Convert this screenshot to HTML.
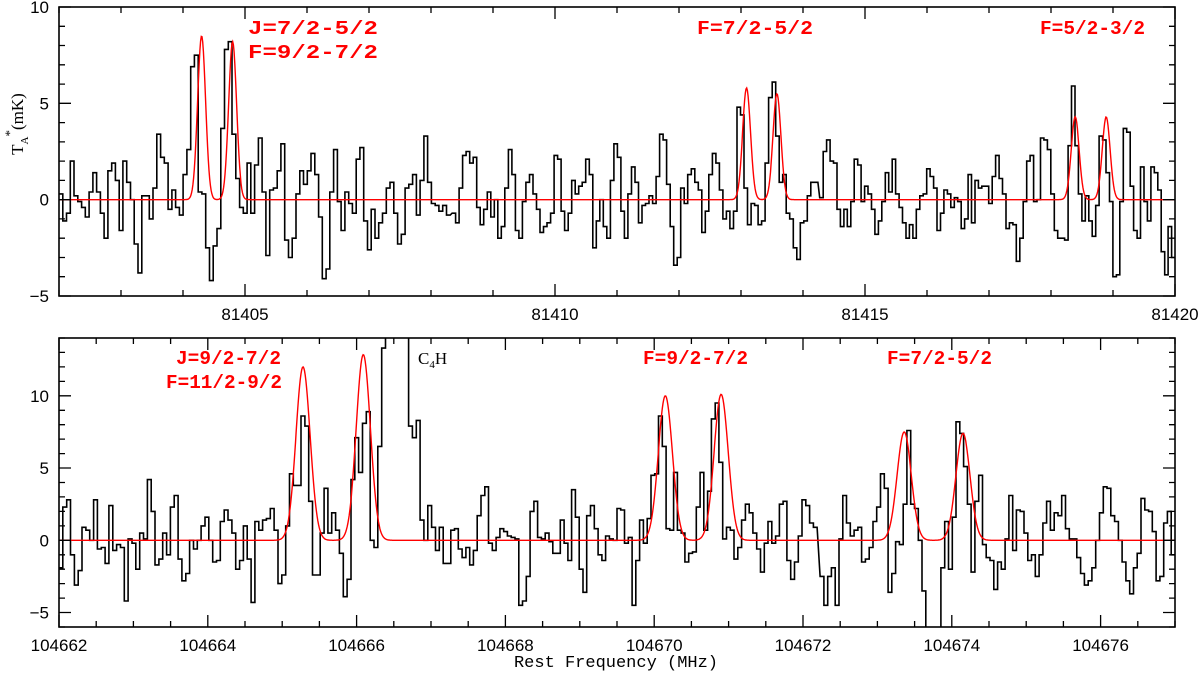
<!DOCTYPE html>
<html><head><meta charset="utf-8"><style>
html,body{margin:0;padding:0;background:#fff;width:1200px;height:674px;overflow:hidden;}
svg{display:block;}
text{font-family:"Liberation Sans",sans-serif;}
.mono{font-family:"Liberation Mono",monospace;}
</style></head><body>
<svg id="chart" width="1200" height="674" viewBox="0 0 1200 674" xmlns="http://www.w3.org/2000/svg">
<defs>
<clipPath id="clipTop"><rect x="59" y="7" width="1116" height="289"/></clipPath>
<clipPath id="clipBot"><rect x="59" y="338" width="1116" height="289"/></clipPath>
</defs>
<g id="top"></g>
<g id="bot"></g>
<text x="23" y="124" transform="rotate(-90 23 124)" text-anchor="middle" font-size="17" style="font-family:'Liberation Serif',serif">T<tspan font-size="11" dy="5">A</tspan><tspan font-size="13" dy="-14">*</tspan><tspan dy="9">(mK)</tspan></text>
<text x="616" y="667" text-anchor="middle" font-size="17" class="mono">Rest Frequency (MHz)</text>
</svg>
<script>
// ---------- TOP PANEL DATA ----------
const topSegStarts = [81402.0, 81408.34, 81414.27];
const topSegEnds   = [81408.31, 81414.24, 81420.0];
const topSeg1 = [0.3,-1.1,-0.7,2.0,0.2,-0.1,-0.4,-0.9,0.4,1.4,0.4,-0.7,-2.0,1.5,1.9,1.0,-1.6,2.0,0.9,0.0,-2.3,-3.8,0.2,0.2,-1.0,0.6,3.4,2.2,1.9,-0.5,0.5,-0.4,-0.8,1.3,2.6,6.9,7.5,0.4,0.3,-2.5,-4.2,-2.4,-1.5,3.7,7.8,8.2,3.4,1.1,-0.4,-0.7,1.9,-0.7,1.8,3.2,0.4,-2.9,0.5,0.6,1.5,2.9,-2.1,-3.0,-2.0,0.3,1.5,0.8,1.5,2.4,1.3,-0.9,-4.1,-3.6,0.4,2.6,-0.1,-1.6,0.4,-0.2,-0.7,2.1,2.7,-1.1,-2.6,-0.5,-2.0,-1.2,-0.7,0.6,0.9,-0.7,-2.3,-1.8,0.6,0.8,1.3,-0.8,1.0,3.3,0.9,-0.2,-0.3,-0.6,-0.3,-0.8];
const topSeg2 = [-0.7,-1.2,0.6,2.3,2.5,1.9,2.2,-0.4,-1.3,-0.5,0.4,-0.9,0.0,-2.0,-1.4,0.6,2.6,1.3,-1.6,-2.0,-0.1,0.9,1.3,0.3,-0.5,-1.7,-1.4,-1.2,-0.7,2.3,2.1,-0.6,-1.6,-0.7,1.0,0.3,0.7,0.9,2.1,1.3,-2.5,-1.1,0.0,-1.4,-2.0,1.0,2.9,2.2,-0.6,-2.0,0.3,1.7,0.9,-1.2,-0.3,-0.2,0.2,-0.2,1.2,3.4,3.1,0.8,-1.4,-3.4,-3.0,0.6,-0.2,1.3,1.6,0.9,0.5,-1.7,-0.6,1.3,2.4,1.9,0.5,-1.0,-0.6,-1.5,-0.6,4.8,4.4,0.6,-1.3,-0.2,-0.3,-1.3,-1.1,1.9,5.3,6.1,3.3,0.9,1.3,-0.7,-1.0,-2.5,-3.1,-1.2,-1.1,0.2,0.9,0.9];
const topSeg3 = [0.1,2.5,3.1,2.0,1.9,-0.5,-1.4,-0.5,-1.4,-0.1,2.1,1.8,-0.1,0.7,0.3,-0.5,-1.8,-1.1,-0.1,1.4,0.4,2.1,0.3,-0.4,-1.2,-2.0,-1.3,-2.0,-0.5,0.2,0.3,1.6,1.2,0.6,-1.6,-0.7,0.5,0.3,-0.4,0.1,-0.1,-1.5,-1.0,1.3,-1.2,1.0,0.6,0.7,0.7,-0.2,1.2,2.3,1.1,0.3,-1.5,-1.2,-1.3,-3.2,-2.0,-0.1,2.0,2.3,-0.1,0.0,3.2,3.1,2.6,0.3,-1.6,-2.0,-2.0,-2.1,2.8,5.9,2.8,0.3,-1.1,0.2,-1.1,-1.9,-0.3,3.3,3.1,1.4,-0.1,-4.0,-3.9,-0.1,3.7,3.5,0.7,-1.6,-2.0,1.7,-0.1,-1.1,1.7,1.4,0.5,-2.7,-3.9,-1.4,-3.0];
const topLineCenters = [81404.30, 81404.80, 81413.09, 81413.58, 81418.39, 81418.89];
const topLineAmps    = [8.5, 8.2, 5.8, 5.5, 4.3, 4.3];
const topLineSigma = 0.064;
const topXTicks = [81405, 81410, 81415, 81420];
const topYTicks = [-5, 0, 5, 10];

// ---------- BOTTOM PANEL DATA ----------
const botSegStarts = [104662.0, 104667.215, 104672.23];
const botSegEnds   = [104667.215, 104672.19, 104677.0];
const botSeg1 = [-1.9,2.3,2.8,-1.0,-3.1,-2.1,0.9,0.7,0.0,2.8,-0.6,-0.5,-1.6,2.4,-0.7,-0.3,-0.5,-4.2,0.1,-0.2,-2.0,0.5,0.1,4.2,2.0,-1.7,-1.3,0.5,-1.0,2.3,3.1,-1.3,-2.8,-2.3,0.0,-0.6,0.0,1.0,1.6,0.0,-1.5,-1.4,1.3,2.1,1.4,0.5,-2.0,-1.4,1.0,-1.3,-4.3,1.3,0.7,1.4,1.5,2.2,0.7,-3.0,-2.4,1.0,4.6,3.8,3.8,8.6,7.9,2.7,-2.4,-2.4,0.5,3.6,0.5,1.9,0.7,-0.9,-3.9,-2.7,4.2,7.1,4.7,8.1,8.9,0.0,-0.5,6.5,13.3,20,26,30,28,24,20,7.9,7.1,8.3,1.4,0.0,2.4,0.9,-0.7,0.9,-1.6];
const botSeg2 = [-1.6,0.7,0.8,-0.6,-1.2,-0.5,-1.7,-0.7,1.7,3.1,3.7,-0.2,-0.7,0.2,0.8,0.6,0.3,0.2,0.1,-4.5,-4.2,-2.5,2.0,2.7,0.2,0.1,0.5,-0.1,-0.9,-0.9,1.4,-0.2,-1.4,3.5,1.6,-2.0,-3.6,1.7,2.4,0.8,-1.0,-1.4,0.3,0.1,0.0,2.2,2.1,-0.2,0.2,-4.5,-1.4,1.4,-0.2,1.5,4.5,4.6,8.6,6.5,0.8,0.7,4.7,0.7,0.5,-1.5,-0.9,-0.8,2.3,4.7,0.7,3.4,8.4,9.5,5.4,0.1,0.9,0.7,-1.3,-0.5,1.4,2.5,1.9,0.5,-0.6,-2.2,-0.2,1.3,-0.2,0.3,2.5,2.7,-1.4,-2.7,-1.5,0.3,2.8,2.4,1.2,0.9];
const botSeg3 = [-2.5,-4.5,-2.5,-1.9,-4.5,0.1,3.1,1.2,0.3,0.7,0.9,-1.5,-1.3,-0.5,1.3,2.3,4.6,3.6,-3.6,-2.3,-0.1,-0.3,2.5,7.6,2.5,2.2,0.0,-3.5,-10,-12,-12,-10,-1.9,1.3,-2.0,1.6,8.2,7.4,5.1,2.5,-2.2,2.7,4.5,-0.3,-1.2,-1.4,-3.4,-1.5,-2.0,0.1,3.1,-0.7,2.1,2.0,0.5,-1.4,-1.0,-2.5,-1.0,1.2,2.7,0.7,1.9,1.7,3.1,0.8,0.1,0.1,-1.2,-2.3,-3.1,-2.8,-1.9,0.0,1.9,3.7,3.6,1.7,1.3,0.0,-1.5,-2.8,-3.7,-1.9,-0.9,2.9,2.1,2.0,0.6,-2.8,-2.5,1.2,2.0,-1.0];
const botLineCenters = [104665.28, 104666.09, 104670.15, 104670.90, 104673.36, 104674.15];
const botLineAmps    = [12.0, 12.85, 10.0, 10.1, 7.5, 7.4];
const botLineSigma = 0.095;
const botXTicks = [104662, 104664, 104666, 104668, 104670, 104672, 104674, 104676];
const botYTicks = [-5, 0, 5, 10];

const NS = "http://www.w3.org/2000/svg";
function mk(parent, tag, attrs){
  const e = document.createElementNS(NS, tag);
  for (const k in attrs) e.setAttribute(k, attrs[k]);
  parent.appendChild(e);
  return e;
}

function drawPanel(g, cfg){
  const {x0,x1,y0,y1,fmin,fmax,vmin,vmax,segStarts,segEnds,segs,centers,amps,sigma,xTicks,yTicks,xMinor,yMinor,clip,labelY} = cfg;
  const X = f => x0 + (f - fmin) / (fmax - fmin) * (x1 - x0);
  const Y = v => y1 - (v - vmin) / (vmax - vmin) * (y1 - y0);

  let d = "";
  let first = true;
  segs.forEach((vals, s) => {
    const w = (segEnds[s] - segStarts[s]) / vals.length;
    vals.forEach((v, i) => {
      const a = X(segStarts[s] + i * w), b = X(segStarts[s] + (i + 1) * w), yy = Y(v);
      if (first) { d += "M" + a.toFixed(1) + " " + yy.toFixed(1); first = false; }
      else d += "L" + a.toFixed(1) + " " + yy.toFixed(1);
      d += "L" + b.toFixed(1) + " " + yy.toFixed(1);
    });
  });
  const hist = mk(g, "path", {d: d, fill: "none", stroke: "#000", "stroke-width": "1.6", "clip-path": "url(#" + clip + ")"});
  
  

  let m = "";
  const n = 1600;
  for (let k = 0; k <= n; k++) {
    const f = fmin + (fmax - fmin) * k / n;
    let v = 0;
    centers.forEach((c, j) => { v += amps[j] * Math.exp(-0.5 * Math.pow((f - c) / sigma, 2)); });
    m += (k ? "L" : "M") + X(f).toFixed(1) + " " + Y(v).toFixed(1);
  }
  const model = mk(g, "path", {d: m, fill: "none", stroke: "#ff0000", "stroke-width": "1.4", "clip-path": "url(#" + clip + ")"});
  
  

  const fr = mk(g, "rect", {x: x0, y: y0, width: x1 - x0, height: y1 - y0, fill: "none", stroke: "#000", "stroke-width": "1.6"});
  
  

  let t = "";
  for (let f = Math.ceil(fmin / xMinor) * xMinor; f <= fmax + 1e-6; f += xMinor) {
    const major = xTicks.some(v => Math.abs(v - f) < 1e-6);
    const L = major ? 12 : 6, xx = X(f).toFixed(1);
    t += "M" + xx + " " + y1 + "v-" + L + "M" + xx + " " + y0 + "v" + L;
  }
  for (let v = Math.ceil(vmin / yMinor) * yMinor; v <= vmax + 1e-6; v += yMinor) {
    const major = yTicks.some(q => Math.abs(q - v) < 1e-6);
    const L = major ? 12 : 6, yy = Y(v).toFixed(1);
    t += "M" + x0 + " " + yy + "h" + L + "M" + x1 + " " + yy + "h-" + L;
  }
  const ticks = mk(g, "path", {d: t, stroke: "#000", "stroke-width": "1.3", fill: "none"});
  
  

  xTicks.forEach(f => {
    const tx = mk(g, "text", {x: X(f), y: labelY, "text-anchor": "middle", "font-size": "17"});
    tx.textContent = String(f);
    
    
  });
  yTicks.forEach(v => {
    const ty = mk(g, "text", {x: x0 - 10, y: Y(v) + 6, "text-anchor": "end", "font-size": "17"});
    ty.textContent = v < 0 ? "\u2212" + Math.abs(v) : String(v);
    
    
  });
}

const gTop = document.getElementById("top");
const gBot = document.getElementById("bot");
drawPanel(gTop, {x0:59,x1:1175,y0:7,y1:296,fmin:81402,fmax:81420,vmin:-5,vmax:10,
  segStarts:topSegStarts,segEnds:topSegEnds,segs:[topSeg1,topSeg2,topSeg3],
  centers:topLineCenters,amps:topLineAmps,sigma:topLineSigma,xTicks:topXTicks,yTicks:topYTicks,
  xMinor:1,yMinor:1,clip:"clipTop",labelY:320});
drawPanel(gBot, {x0:59,x1:1175,y0:338,y1:627,fmin:104662,fmax:104677,vmin:-6,vmax:14,
  segStarts:botSegStarts,segEnds:botSegEnds,segs:[botSeg1,botSeg2,botSeg3],
  centers:botLineCenters,amps:botLineAmps,sigma:botLineSigma,xTicks:botXTicks,yTicks:botYTicks,
  xMinor:0.5,yMinor:1,clip:"clipBot",labelY:651});

const labels = [
  [gTop, "J=7/2-5/2", 248, 34, 130, "#ff0000", "label-j-7-2"],
  [gTop, "F=9/2-7/2", 248, 58, 130, "#ff0000", "label-f-9-2-top"],
  [gTop, "F=7/2-5/2", 697, 34, 116, "#ff0000", "label-f-7-2-top"],
  [gTop, "F=5/2-3/2", 1040, 34, 105, "#ff0000", "label-f-5-2"],
  [gBot, "J=9/2-7/2", 176, 364, 105, "#ff0000", "label-j-9-2"],
  [gBot, "F=11/2-9/2", 166, 388, 116, "#ff0000", "label-f-11-2"],
  [gBot, "F=9/2-7/2", 643, 364, 105, "#ff0000", "label-f-9-2-bottom"],
  [gBot, "F=7/2-5/2", 887, 364, 105, "#ff0000", "label-f-7-2-bottom"]
];
labels.forEach(l => {
  const t = mk(l[0], "text", {x: l[2], y: l[3], "font-size": "19", "font-weight": "bold", fill: l[5], class: "mono", textLength: l[4], lengthAdjust: "spacingAndGlyphs"});
  t.textContent = l[1];
  
  
});
const c4h = mk(gBot, "text", {x: 418, y: 364, "font-size": "17", fill: "#000", style: "font-family:'Liberation Serif',serif"});
c4h.innerHTML = '<tspan>C</tspan><tspan font-size="11" dy="4">4</tspan><tspan dy="-4">H</tspan>';


</script>
</body></html>
